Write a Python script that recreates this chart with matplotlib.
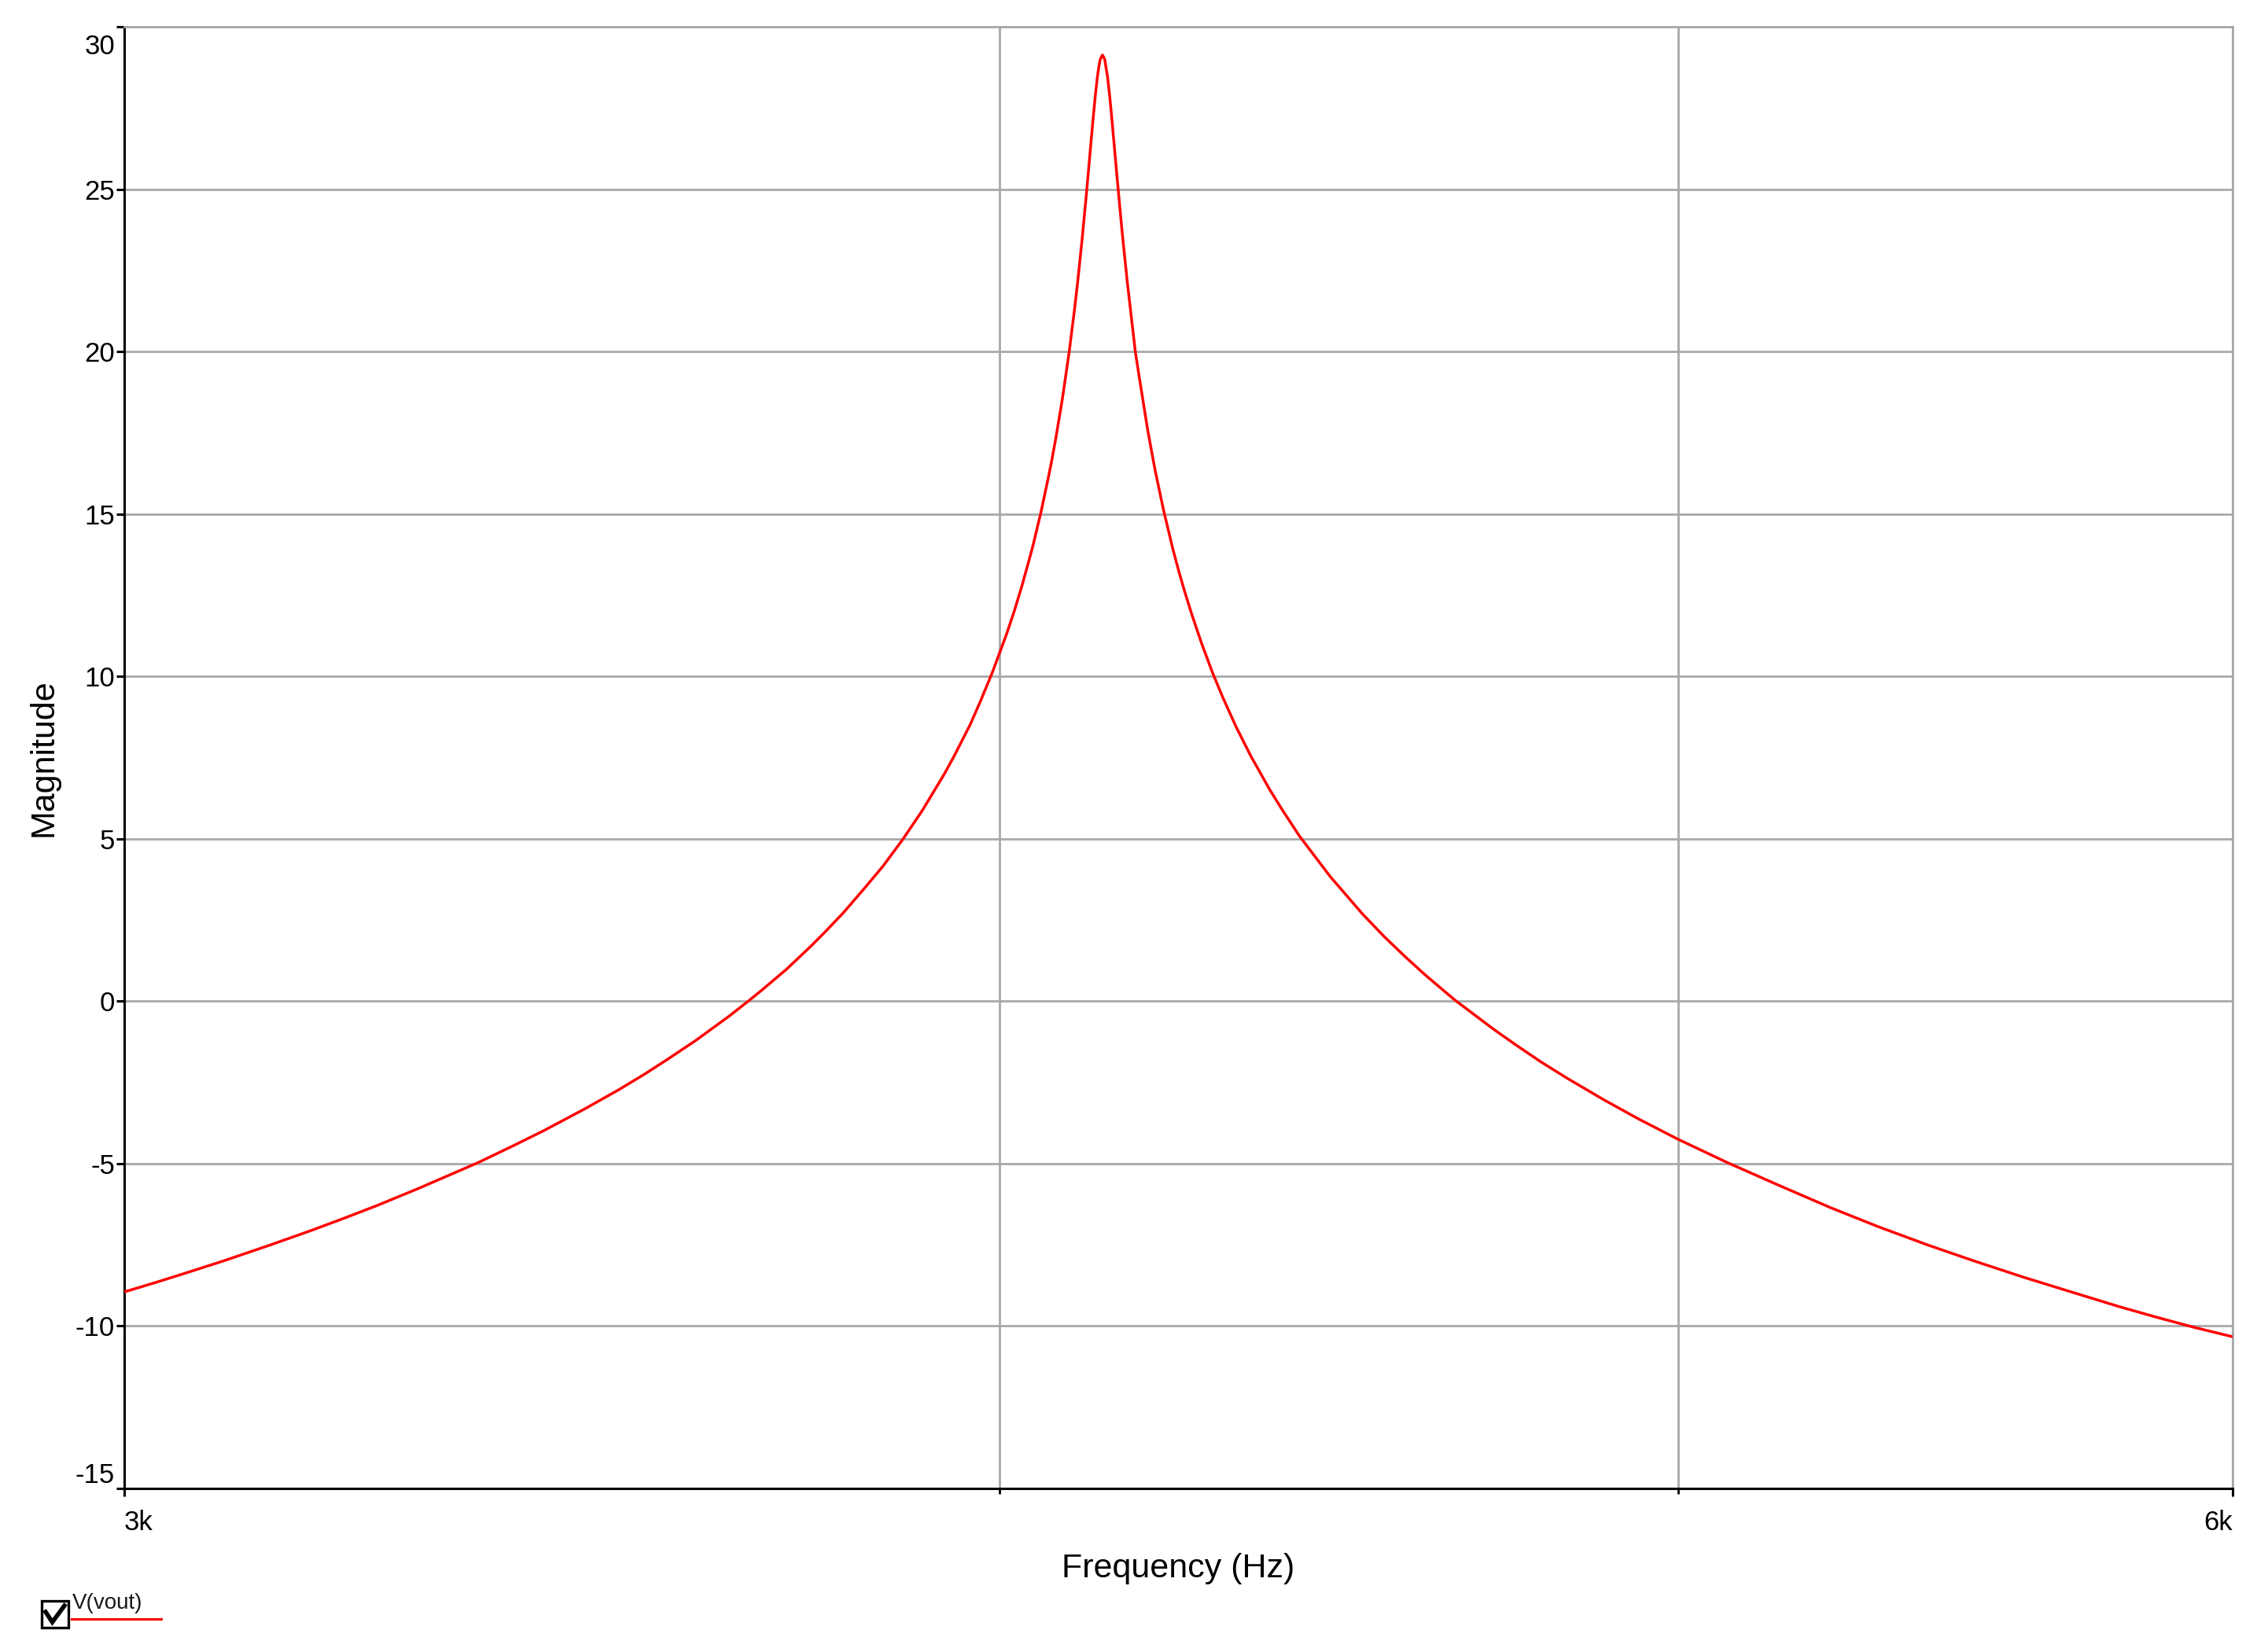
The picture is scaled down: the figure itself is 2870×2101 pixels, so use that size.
import matplotlib
matplotlib.use('Agg')
import matplotlib.pyplot as plt
from matplotlib.lines import Line2D
from matplotlib.patches import Rectangle
from matplotlib.ticker import NullFormatter
from matplotlib.transforms import ScaledTranslation

plt.rcParams['font.family'] = ['Liberation Sans', 'DejaVu Sans']

# AC sweep of V(vout) (Hz, dB)
freq = [3000, 3030, 3059, 3100, 3146, 3190, 3224, 3260, 3305, 3370,
        3410, 3444, 3490, 3530, 3560, 3586, 3620, 3660, 3685, 3700,
        3730, 3760, 3778, 3800, 3827, 3850, 3875, 3900, 3928, 3940,
        3962, 3975, 3991, 4000, 4010, 4020, 4030, 4041, 4045, 4055,
        4065, 4069, 4075, 4083, 4085, 4093, 4100, 4104, 4110, 4116,
        4122, 4125, 4128, 4131, 4133, 4135, 4138, 4141, 4145, 4148,
        4150, 4155, 4158, 4165, 4172, 4177, 4183, 4190, 4200, 4210,
        4222, 4235, 4244, 4250, 4261, 4275, 4290, 4305, 4324, 4345,
        4372, 4390, 4415, 4460, 4508, 4540, 4571, 4600, 4646, 4707,
        4740, 4779, 4820, 4880, 4936, 5000, 5082, 5170, 5259, 5340,
        5427, 5510, 5602, 5690, 5782, 5850, 5922, 6000]
mag = [-8.95, -8.67, -8.39, -7.99, -7.52, -7.06, -6.69, -6.29, -5.76, -4.97,
       -4.44, -3.98, -3.32, -2.72, -2.24, -1.80, -1.21, -0.46, 0.04, 0.35,
       0.99, 1.70, 2.15, 2.72, 3.49, 4.16, 4.98, 5.87, 6.98, 7.50,
       8.52, 9.22, 10.13, 10.70, 11.33, 12.03, 12.80, 13.72, 14.07, 15.04,
       16.12, 16.58, 17.33, 18.43, 18.73, 20.0, 21.27, 22.06, 23.37, 24.80,
       26.34, 27.10, 27.82, 28.44, 28.76, 29.0, 29.13, 29.0, 28.44, 27.83,
       27.36, 26.10, 25.34, 23.64, 22.12, 21.15, 19.98, 18.98, 17.58, 16.37,
       15.11, 13.91, 13.17, 12.71, 11.93, 11.02, 10.14, 9.35, 8.44, 7.54,
       6.51, 5.89, 5.08, 3.83, 2.67, 1.98, 1.37, 0.83, 0.04, -0.88,
       -1.34, -1.86, -2.36, -3.04, -3.63, -4.25, -4.97, -5.68, -6.37, -6.94,
       -7.50, -7.99, -8.50, -8.95, -9.41, -9.72, -10.03, -10.33]

x_ticks = [3000, 6000]
x_tick_labels = ['3k', '6k']
x_minor = [4000, 5000]
y_ticks = [-15, -10, -5, 0, 5, 10, 15, 20, 25, 30]

W, H = 2870, 2101
GRID = '#a8a8a8'


def fx(x):
    return x / W


def fy(y):
    return 1 - y / H


fig = plt.figure(figsize=(W / 100, H / 100), dpi=100)
ax = fig.add_axes([fx(158), fy(1893), (2839 - 158) / W, (1893 - 34) / H])

ax.plot(freq, mag, color='#ff0000', lw=2.5, solid_joinstyle='round', zorder=3)

ax.set_xscale('log')
ax.set_xlim(3000, 6000)
ax.set_ylim(-15, 30)

ax.set_xticks(x_ticks)
ax.set_xticklabels(x_tick_labels)
ax.set_xticks(x_minor, minor=True)
ax.xaxis.set_minor_formatter(NullFormatter())
ax.set_yticks(y_ticks)
ax.set_yticklabels([str(v) for v in y_ticks])

ax.grid(True, which='both', axis='x', color=GRID, lw=2)
ax.grid(True, which='major', axis='y', color=GRID, lw=2)
ax.set_axisbelow(True)

for s in ['left', 'bottom']:
    ax.spines[s].set_color('black')
    ax.spines[s].set_linewidth(2.2)
for s in ['top', 'right']:
    ax.spines[s].set_color(GRID)
    ax.spines[s].set_linewidth(2)

ax.tick_params(axis='both', which='major', direction='out', length=7.5,
               width=2.2, labelsize=25, color='black')
ax.tick_params(axis='x', which='major', pad=12)
ax.tick_params(axis='y', which='major', pad=1)
ax.tick_params(axis='x', which='minor', direction='out', length=5, width=2, color='black')

xl = ax.get_xticklabels()
xl[0].set_ha('left')
xl[-1].set_ha('right')
yl = ax.get_yticklabels()
yl[0].set_va('bottom')
yl[-1].set_va('top')
yl[-1].set_transform(yl[-1].get_transform() + ScaledTranslation(0, -0.09, fig.dpi_scale_trans))

ax.set_xlabel('Frequency (Hz)', fontsize=31)
ax.xaxis.set_label_coords(0.5, -(1995 - 1893) / (1893 - 34))
ax.xaxis.label.set_va('center')
ax.set_ylabel('Magnitude', fontsize=31)
ax.yaxis.set_label_coords(-(158 - 56) / (2839 - 158), 0.5)
ax.yaxis.label.set_va('center')

# legend entry with check box
fig.add_artist(Rectangle((fx(53), fy(2070)), 34 / W, 34 / H, transform=fig.transFigure,
                         fill=False, ec='black', lw=2.4))
fig.add_artist(Line2D([fx(58), fx(66.5), fx(82)], [fy(2050), fy(2063), fy(2042)],
                      transform=fig.transFigure, color='black', lw=4,
                      solid_joinstyle='miter'))
fig.text(fx(92), fy(2046.5), 'V(vout)', fontsize=20, ha='left', va='baseline', color='#1a1a1a')
fig.add_artist(Line2D([fx(91), fx(205)], [fy(2059), fy(2059)],
                      transform=fig.transFigure, color='#ff0000', lw=2.2))

fig.savefig('out.png', dpi=100)
